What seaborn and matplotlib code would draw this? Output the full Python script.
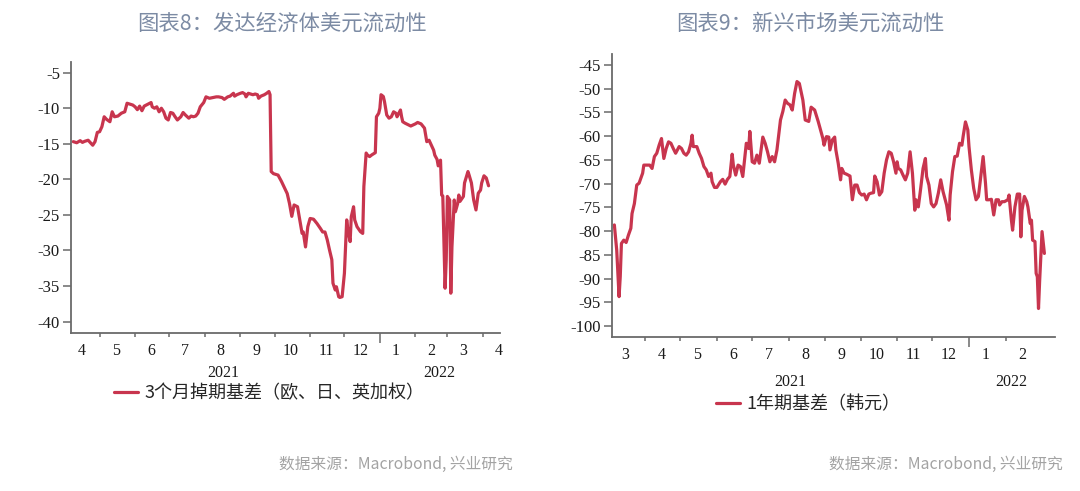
import matplotlib
matplotlib.use("Agg")
import matplotlib.pyplot as plt
import matplotlib.transforms as mtransforms
import pandas as pd
import seaborn as sns

# ---------------- data ----------------
left_dates = [
    "2021-04-08", "2021-04-11", "2021-04-14", "2021-04-16", "2021-04-18", "2021-04-21", "2021-04-23",
    "2021-04-25", "2021-04-27", "2021-04-29", "2021-05-01", "2021-05-03", "2021-05-05", "2021-05-07",
    "2021-05-10", "2021-05-12", "2021-05-14", "2021-05-17", "2021-05-20", "2021-05-23", "2021-05-25",
    "2021-05-27", "2021-05-30", "2021-06-01", "2021-06-03", "2021-06-05", "2021-06-07", "2021-06-09",
    "2021-06-12", "2021-06-15", "2021-06-16", "2021-06-18", "2021-06-20", "2021-06-22", "2021-06-24",
    "2021-06-26", "2021-06-28", "2021-06-30", "2021-07-02", "2021-07-04", "2021-07-06", "2021-07-08",
    "2021-07-11", "2021-07-13", "2021-07-15", "2021-07-18", "2021-07-20", "2021-07-22", "2021-07-24",
    "2021-07-26", "2021-07-28", "2021-07-31", "2021-08-02", "2021-08-05", "2021-08-08", "2021-08-11",
    "2021-08-13", "2021-08-16", "2021-08-18", "2021-08-21", "2021-08-23", "2021-08-26", "2021-08-27",
    "2021-08-29", "2021-09-01", "2021-09-03", "2021-09-05", "2021-09-06", "2021-09-08", "2021-09-10",
    "2021-09-12", "2021-09-14", "2021-09-16", "2021-09-17", "2021-09-19", "2021-09-22", "2021-09-24",
    "2021-09-26", "2021-09-27", "2021-09-28", "2021-09-30", "2021-10-04", "2021-10-07", "2021-10-10",
    "2021-10-12", "2021-10-14", "2021-10-16", "2021-10-18", "2021-10-21", "2021-10-23", "2021-10-25",
    "2021-10-26", "2021-10-28", "2021-10-30", "2021-11-01", "2021-11-04", "2021-11-07", "2021-11-10",
    "2021-11-12", "2021-11-14", "2021-11-16", "2021-11-18", "2021-11-20", "2021-11-21", "2021-11-23",
    "2021-11-24", "2021-11-26", "2021-11-27", "2021-11-29", "2021-12-01", "2021-12-03", "2021-12-04",
    "2021-12-06", "2021-12-07", "2021-12-09", "2021-12-10", "2021-12-12", "2021-12-15", "2021-12-17",
    "2021-12-18", "2021-12-20", "2021-12-21", "2021-12-23", "2021-12-25", "2021-12-28", "2021-12-29",
    "2021-12-31", "2022-01-01", "2022-01-02", "2022-01-04", "2022-01-05", "2022-01-07", "2022-01-09",
    "2022-01-11", "2022-01-13", "2022-01-15", "2022-01-16", "2022-01-19", "2022-01-20", "2022-01-21",
    "2022-01-23", "2022-01-26", "2022-01-28", "2022-01-30", "2022-02-01", "2022-02-03", "2022-02-06",
    "2022-02-09", "2022-02-11", "2022-02-13", "2022-02-15", "2022-02-17", "2022-02-18", "2022-02-20",
    "2022-02-21", "2022-02-23", "2022-02-24", "2022-02-25", "2022-02-27", "2022-02-28", "2022-03-01",
    "2022-03-03", "2022-03-04", "2022-03-05", "2022-03-07", "2022-03-08", "2022-03-10", "2022-03-11",
    "2022-03-12", "2022-03-15", "2022-03-16", "2022-03-19", "2022-03-20", "2022-03-22", "2022-03-24",
    "2022-03-26", "2022-03-28", "2022-03-30", "2022-03-31", "2022-04-02", "2022-04-04", "2022-04-06",
]
left_values = [
    -14.7, -14.85, -14.56, -14.8, -14.65, -14.5, -14.85,
    -15.2, -14.7, -13.4, -13.3, -12.6, -11.2, -11.55,
    -11.9, -10.5, -11.2, -11.1, -10.7, -10.5, -9.3,
    -9.4, -9.55, -9.8, -10.2, -9.7, -10.35, -9.7,
    -9.45, -9.2, -9.8, -10.0, -9.8, -10.5, -10.0,
    -10.5, -11.4, -11.65, -10.6, -10.7, -11.2, -11.65,
    -11.2, -10.6, -10.95, -11.4, -11.1, -11.2, -11.1,
    -10.7, -9.8, -9.2, -8.4, -8.6, -8.5, -8.4,
    -8.4, -8.5, -8.75, -8.4, -8.3, -7.9, -8.3,
    -8.1, -7.9, -7.8, -8.0, -8.4, -7.9, -8.0,
    -8.1, -8.0, -8.1, -8.6, -8.3, -8.1, -7.9,
    -7.65, -8.1, -18.9, -19.2, -19.4, -20.3, -21.3,
    -22.0, -23.4, -25.2, -23.6, -23.85, -25.7, -27.6,
    -27.4, -29.5, -26.65, -25.5, -25.6, -26.2, -26.9,
    -27.4, -27.4, -28.5, -29.95, -31.3, -34.6, -35.55,
    -35.1, -36.5, -36.6, -36.5, -33.2, -25.7, -27.1,
    -28.75, -25.25, -23.85, -25.7, -26.65, -27.35, -27.6,
    -21.0, -16.3, -16.55, -16.8, -16.55, -16.25, -11.2,
    -10.7, -10.0, -8.1, -8.35, -9.05, -10.95, -11.4,
    -11.2, -10.5, -10.7, -11.2, -10.25, -11.2, -11.9,
    -12.1, -12.35, -12.5, -12.35, -12.2, -12.0, -12.2,
    -12.8, -14.7, -14.5, -15.2, -15.9, -16.6, -17.2,
    -18.1, -17.3, -22.2, -22.35, -35.3, -31.3, -22.4,
    -22.9, -36.0, -29.5, -22.9, -24.55, -23.4, -22.2,
    -23.1, -22.4, -20.5, -18.9, -19.4, -20.5, -22.9,
    -24.3, -21.95, -21.5, -20.5, -19.5, -19.8, -20.9,
]

right_dates = [
    "2021-03-06", "2021-03-08", "2021-03-10", "2021-03-11", "2021-03-12", "2021-03-14", "2021-03-16",
    "2021-03-18", "2021-03-20", "2021-03-21", "2021-03-23", "2021-03-25", "2021-03-27", "2021-03-30",
    "2021-03-31", "2021-04-03", "2021-04-05", "2021-04-07", "2021-04-09", "2021-04-11", "2021-04-13",
    "2021-04-15", "2021-04-17", "2021-04-19", "2021-04-21", "2021-04-23", "2021-04-25", "2021-04-27",
    "2021-04-30", "2021-05-02", "2021-05-04", "2021-05-06", "2021-05-08", "2021-05-10", "2021-05-11",
    "2021-05-12", "2021-05-15", "2021-05-17", "2021-05-19", "2021-05-21", "2021-05-23", "2021-05-25",
    "2021-05-27", "2021-05-28", "2021-05-30", "2021-06-01", "2021-06-04", "2021-06-06", "2021-06-08",
    "2021-06-10", "2021-06-12", "2021-06-14", "2021-06-15", "2021-06-17", "2021-06-19", "2021-06-21",
    "2021-06-23", "2021-06-26", "2021-06-28", "2021-06-29", "2021-07-01", "2021-07-03", "2021-07-05",
    "2021-07-07", "2021-07-10", "2021-07-12", "2021-07-14", "2021-07-16", "2021-07-18", "2021-07-20",
    "2021-07-22", "2021-07-25", "2021-07-27", "2021-07-29", "2021-07-31", "2021-08-02", "2021-08-04",
    "2021-08-06", "2021-08-08", "2021-08-10", "2021-08-12", "2021-08-13", "2021-08-15", "2021-08-18",
    "2021-08-20", "2021-08-23", "2021-08-26", "2021-08-28", "2021-08-30", "2021-08-31", "2021-09-02",
    "2021-09-04", "2021-09-05", "2021-09-07", "2021-09-09", "2021-09-10", "2021-09-12", "2021-09-14",
    "2021-09-15", "2021-09-17", "2021-09-19", "2021-09-22", "2021-09-24", "2021-09-26", "2021-09-28",
    "2021-09-30", "2021-10-02", "2021-10-04", "2021-10-06", "2021-10-08", "2021-10-10", "2021-10-12",
    "2021-10-13", "2021-10-15", "2021-10-17", "2021-10-19", "2021-10-21", "2021-10-23", "2021-10-25",
    "2021-10-27", "2021-10-29", "2021-10-31", "2021-11-01", "2021-11-02", "2021-11-04", "2021-11-06",
    "2021-11-08", "2021-11-10", "2021-11-12", "2021-11-14", "2021-11-16", "2021-11-17", "2021-11-19",
    "2021-11-21", "2021-11-23", "2021-11-25", "2021-11-26", "2021-11-28", "2021-11-30", "2021-12-02",
    "2021-12-04", "2021-12-06", "2021-12-08", "2021-12-10", "2021-12-13", "2021-12-15", "2021-12-16",
    "2021-12-18", "2021-12-20", "2021-12-22", "2021-12-24", "2021-12-26", "2021-12-27", "2021-12-29",
    "2021-12-31", "2022-01-01", "2022-01-03", "2022-01-05", "2022-01-07", "2022-01-09", "2022-01-11",
    "2022-01-13", "2022-01-15", "2022-01-16", "2022-01-18", "2022-01-20", "2022-01-22", "2022-01-24",
    "2022-01-26", "2022-01-27", "2022-01-29", "2022-01-31", "2022-02-03", "2022-02-04", "2022-02-06",
    "2022-02-07", "2022-02-09", "2022-02-11", "2022-02-13", "2022-02-14", "2022-02-15", "2022-02-17",
    "2022-02-19", "2022-02-20", "2022-02-22", "2022-02-23", "2022-02-24", "2022-02-26", "2022-02-27",
    "2022-02-28", "2022-03-01", "2022-03-02", "2022-03-04", "2022-03-06",
]
right_values = [
    -78.7, -84.0, -93.8, -89.6, -82.6, -81.9, -82.4,
    -80.8, -79.4, -76.3, -74.2, -70.3, -69.9, -67.8,
    -66.1, -66.1, -66.1, -66.8, -64.3, -63.6, -61.9,
    -60.5, -64.7, -62.6, -61.2, -61.5, -62.6, -63.6,
    -62.2, -62.6, -63.6, -64.0, -63.3, -61.5, -59.8,
    -62.2, -62.2, -63.6, -64.7, -66.4, -67.1, -68.5,
    -67.8, -69.6, -70.8, -70.8, -69.6, -69.1, -70.1,
    -69.1, -68.5, -63.8, -66.1, -68.2, -66.1, -66.4,
    -68.5, -61.5, -62.6, -59.0, -65.4, -65.7, -64.0,
    -65.7, -60.2, -61.5, -63.3, -65.4, -64.3, -65.4,
    -62.9, -56.6, -54.8, -52.4, -53.1, -53.4, -54.5,
    -51.0, -48.5, -48.9, -51.3, -52.4, -56.6, -56.9,
    -53.9, -54.5, -56.9, -58.7, -60.5, -61.9, -60.1,
    -60.2, -62.9, -60.8, -60.2, -62.9, -65.7, -69.2,
    -66.8, -67.8, -68.0, -68.4, -73.4, -70.3, -70.3,
    -71.9, -72.4, -72.2, -73.4, -72.2, -72.0, -71.9,
    -68.4, -69.6, -72.4, -71.7, -67.8, -65.0, -63.3,
    -63.6, -65.4, -67.8, -65.4, -66.8, -67.1, -68.2,
    -69.2, -67.8, -63.3, -67.8, -75.6, -73.4, -74.9,
    -71.0, -66.8, -64.7, -68.5, -70.3, -74.2, -74.9,
    -74.2, -72.0, -69.2, -71.7, -74.5, -77.7, -72.4,
    -67.5, -64.3, -64.2, -61.5, -61.9, -60.1, -57.0,
    -58.7, -62.2, -67.1, -71.0, -73.4, -72.7, -68.5,
    -64.3, -69.9, -73.4, -73.4, -73.3, -76.6, -73.4,
    -73.4, -74.5, -73.8, -73.8, -73.4, -72.4, -77.7,
    -79.8, -74.9, -72.2, -72.2, -81.2, -75.6, -72.7,
    -73.8, -74.9, -78.4, -77.7, -81.9, -82.2, -88.9,
    -89.6, -96.3, -90.3, -80.1, -84.7,
]

left_title = "图表8：发达经济体美元流动性"
right_title = "图表9：新兴市场美元流动性"
left_series = "3个月掉期基差（欧、日、英加权）"
right_series = "1年期基差（韩元）"
source_text = "数据来源：Macrobond, 兴业研究"

left_yticks = [-5, -10, -15, -20, -25, -30, -35, -40]
right_yticks = [-45, -50, -55, -60, -65, -70, -75, -80, -85, -90, -95, -100]
left_month_labels = ["4", "5", "6", "7", "8", "9", "10", "11", "12", "1", "2", "3", "4"]
right_month_labels = ["3", "4", "5", "6", "7", "8", "9", "10", "11", "12", "1", "2"]
year_labels = ["2021", "2022"]

# ---------------- style ----------------
LINE = "#C8354E"
SPINE = "#6a6a6a"
TITLE_C = "#7C8BA4"
SOURCE_C = "#A3A3A3"
CJK = ["Noto Sans CJK SC", "DejaVu Sans"]

sns.set_style("ticks")
plt.rcParams["font.family"] = ["Liberation Serif", "Noto Sans CJK SC"]
plt.rcParams["axes.unicode_minus"] = False

W, H = 1080, 491
fig = plt.figure(figsize=(W / 100, H / 100), dpi=100)


def fx(px):
    return px / W


def fy(py):
    return 1 - py / H


def draw(ax, dates, values, label, xlim, ylim, yticks, month_labels, first_month,
         year_dates, year_off, legend_xy, title, title_x, source_x):
    df = pd.DataFrame({"date": pd.to_datetime(dates), "value": values})
    sns.lineplot(data=df, x="date", y="value", ax=ax, color=LINE, linewidth=2.3,
                 label=label, legend=False)
    ax.set_xlim(pd.Timestamp(xlim[0]), pd.Timestamp(xlim[1]))
    ax.set_ylim(*ylim)
    ax.set_xlabel("")
    ax.set_ylabel("")
    sns.despine(ax=ax)
    for s in ["left", "bottom"]:
        ax.spines[s].set_color(SPINE)
        ax.spines[s].set_linewidth(1.3)

    # y ticks
    ax.set_yticks(yticks)
    ax.set_yticklabels([str(v) for v in yticks])
    ax.tick_params(axis="y", direction="out", length=5.5, width=1.1, color=SPINE,
                   pad=2.5, labelsize=12, labelcolor="#1a1a1a")

    # month boundaries (major) and month labels (minor)
    starts = pd.date_range(pd.Timestamp(first_month), periods=len(month_labels), freq="MS")
    bounds = list(starts[1:])
    mids = [d + pd.Timedelta(days=14) for d in starts]
    ax.set_xticks(bounds)
    ax.set_xticklabels([""] * len(bounds))
    ax.set_xticks(mids, minor=True)
    ax.set_xticklabels(month_labels, minor=True)
    ax.tick_params(axis="x", which="major", direction="out", length=3, width=1.1, color=SPINE)
    ax.tick_params(axis="x", which="minor", length=0, pad=7, labelsize=11.5, labelcolor="#1a1a1a")
    for d, t in zip(bounds, ax.xaxis.get_major_ticks()):
        if d.month == 1:
            t.tick1line.set_markersize(7)

    trans = mtransforms.blended_transform_factory(ax.transData, ax.transAxes)
    for lab, d in zip(year_labels, year_dates):
        ax.text(pd.Timestamp(d), year_off, lab, transform=trans, ha="center", va="center",
                fontsize=11.5, color="#1a1a1a")

    line = ax.get_lines()[0]
    fig.legend(handles=[line], labels=[label], loc="center left",
               bbox_to_anchor=(fx(legend_xy[0]), fy(legend_xy[1])), frameon=False,
               handlelength=1.35, handletextpad=0.33, borderpad=0, borderaxespad=0,
               prop={"family": CJK, "size": 13})

    fig.text(fx(title_x), fy(24), title, ha="center", va="center", fontsize=15.4,
             color=TITLE_C, family=CJK)
    fig.text(fx(source_x), fy(464), source_text, ha="right", va="center", fontsize=11.3,
             color=SOURCE_C, family=CJK)


ax1 = fig.add_axes([fx(71), fy(333), (500 - 71) / W, (333 - 62) / H])
ax2 = fig.add_axes([fx(612), fy(337), (1055 - 612) / W, (337 - 54) / H])

draw(ax1, left_dates, left_values, left_series,
     ("2021-04-06", "2022-04-16"), (-41.6, -3.5), left_yticks, left_month_labels,
     "2021-04-01", ("2021-08-17", "2022-02-22"), -0.148, (114, 393),
     left_title, 282, 513)
draw(ax2, right_dates, right_values, right_series,
     ("2021-03-04", "2022-03-15"), (-102.3, -42.7), right_yticks, right_month_labels,
     "2021-03-01", ("2021-08-02", "2022-02-06"), -0.159, (716, 404),
     right_title, 810, 1063)

fig.savefig("out.png", dpi=100, facecolor="white")
